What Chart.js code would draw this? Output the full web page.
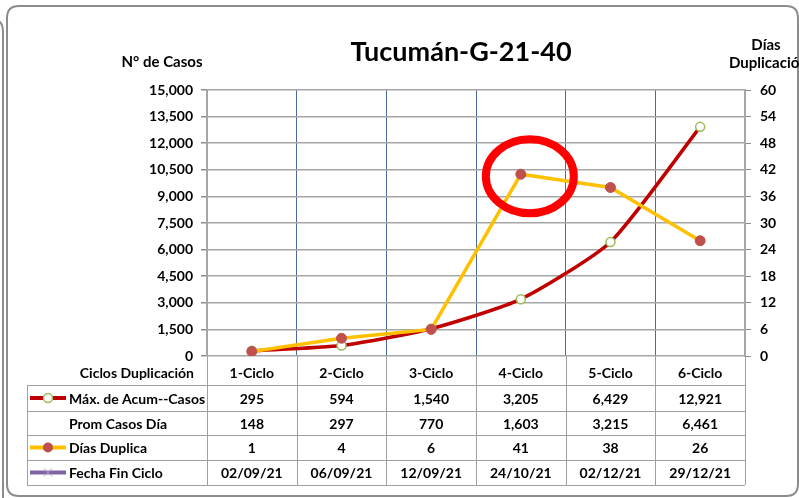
<!DOCTYPE html>
<html>
<head>
<meta charset="utf-8">
<script src="https://cdn.jsdelivr.net/npm/chart.js@4"></script>
<style>
  html, body { margin: 0; padding: 0; background: #fff; }
  #wrap { width: 799px; height: 498px; }
</style>
</head>
<body>
<div id="wrap"><canvas id="chart" width="799" height="498"></canvas></div>
<script>
const ciclos = ["1-Ciclo", "2-Ciclo", "3-Ciclo", "4-Ciclo", "5-Ciclo", "6-Ciclo"];
const maxAcumCasos = [295, 594, 1540, 3205, 6429, 12921];
const promCasosDia = [148, 297, 770, 1603, 3215, 6461];
const diasDuplica = [1, 4, 6, 41, 38, 26];
const fechaFinCiclo = ["02/09/21", "06/09/21", "12/09/21", "24/10/21", "02/12/21", "29/12/21"];
const casosTicks = [0, 1500, 3000, 4500, 6000, 7500, 9000, 10500, 12000, 13500, 15000];
const diasTicks = [0, 6, 12, 18, 24, 30, 36, 42, 48, 54, 60];

const FONT = "Lato, 'Open Sans', sans-serif";
const fmt = n => n.toLocaleString("en-US");

function roundRect(ctx, x, y, w, h, r) {
  ctx.beginPath();
  ctx.moveTo(x + r, y);
  ctx.lineTo(x + w - r, y);
  ctx.quadraticCurveTo(x + w, y, x + w, y + r);
  ctx.lineTo(x + w, y + h - r);
  ctx.quadraticCurveTo(x + w, y + h, x + w - r, y + h);
  ctx.lineTo(x + r, y + h);
  ctx.quadraticCurveTo(x, y + h, x, y + h - r);
  ctx.lineTo(x, y + r);
  ctx.quadraticCurveTo(x, y, x + r, y);
  ctx.closePath();
}

// frame, titles, data table and the red circle
const extras = {
  id: "extras",
  afterDraw(chart) {
    const ctx = chart.ctx;
    const a = chart.chartArea;
    const xs = chart.scales.x;
    const y1 = chart.scales.y1;
    const colW = (a.right - a.left) / ciclos.length;
    ctx.save();

    // frames
    ctx.strokeStyle = "#8c8c8c";
    ctx.lineWidth = 2;
    roundRect(ctx, 7, 6, 791, 490, 12);
    ctx.stroke();
    ctx.beginPath();
    ctx.moveTo(-6, 20);
    ctx.quadraticCurveTo(3, 20, 3, 32);
    ctx.lineTo(3, 498);
    ctx.stroke();

    // titles
    ctx.fillStyle = "#000";
    ctx.textBaseline = "middle";
    ctx.textAlign = "center";
    ctx.font = "bold 27px " + FONT;
    ctx.fillText("Tucumán-G-21-40", 461, 52);
    ctx.font = "bold 15px " + FONT;
    ctx.fillText("N° de Casos", 162, 62);
    ctx.fillText("Días", 766, 45);
    ctx.textAlign = "left";
    ctx.fillText("Duplicación", 729, 63);

    // red circle around 4-Ciclo
    const cx = xs.getPixelForValue(3) + 9;
    const cy = y1.getPixelForValue(diasDuplica[3]) + 2;
    ctx.strokeStyle = "#ff0000";
    ctx.lineWidth = 8;
    ctx.beginPath();
    ctx.ellipse(cx, cy, 44, 37, 0, 0, Math.PI * 2);
    ctx.stroke();

    // table
    const tLeft = 27;
    const rows = [385, 411, 435, 460, 485];
    ctx.strokeStyle = "#a0a0a0";
    ctx.lineWidth = 1;
    ctx.beginPath();
    rows.forEach(r => { ctx.moveTo(tLeft, r + 0.5); ctx.lineTo(a.right, r + 0.5); });
    ctx.moveTo(tLeft + 0.5, rows[0]); ctx.lineTo(tLeft + 0.5, rows[4]);
    for (let i = 0; i <= ciclos.length; i++) {
      const x = Math.round(a.left + i * colW) + 0.5;
      ctx.moveTo(x, a.bottom); ctx.lineTo(x, rows[4]);
    }
    ctx.stroke();

    ctx.fillStyle = "#000";
    ctx.font = "bold 14px " + FONT;
    ctx.textAlign = "right";
    ctx.fillText("Ciclos Duplicación", 194, 373);
    ctx.textAlign = "left";
    const labels = ["Máx. de Acum--Casos", "Prom Casos Día", "Días Duplica", "Fecha Fin Ciclo"];
    const rowData = [maxAcumCasos.map(fmt), promCasosDia.map(fmt), diasDuplica.map(String), fechaFinCiclo];
    for (let r = 0; r < 4; r++) {
      const yc = (rows[r] + rows[r + 1]) / 2 + 1;
      ctx.fillStyle = "#000";
      ctx.textAlign = "left";
      ctx.fillText(labels[r], 69, yc);
      ctx.textAlign = "center";
      rowData[r].forEach((v, i) => ctx.fillText(v, a.left + (i + 0.5) * colW, yc));
    }
    ciclos.forEach((c, i) => ctx.fillText(c, a.left + (i + 0.5) * colW, 373));

    // legend keys
    const key = (yc, color) => {
      ctx.strokeStyle = color; ctx.lineWidth = 4;
      ctx.beginPath(); ctx.moveTo(30, yc); ctx.lineTo(66, yc); ctx.stroke();
    };
    let yc = (rows[0] + rows[1]) / 2;
    key(yc, "#c00000");
    ctx.fillStyle = "#fff"; ctx.strokeStyle = "#9bbb59"; ctx.lineWidth = 1.5;
    ctx.beginPath(); ctx.arc(48, yc, 4.5, 0, Math.PI * 2); ctx.fill(); ctx.stroke();
    yc = (rows[2] + rows[3]) / 2;
    key(yc, "#ffc000");
    ctx.fillStyle = "#c0504d";
    ctx.beginPath(); ctx.arc(48, yc, 5, 0, Math.PI * 2); ctx.fill();
    yc = (rows[3] + rows[4]) / 2;
    key(yc, "#8064a2");
    ctx.strokeStyle = "#b3a2c7"; ctx.lineWidth = 1;
    ctx.beginPath();
    ctx.moveTo(44, yc - 4); ctx.lineTo(52, yc + 4);
    ctx.moveTo(52, yc - 4); ctx.lineTo(44, yc + 4);
    ctx.stroke();

    ctx.restore();
  }
};

new Chart(document.getElementById("chart"), {
  type: "line",
  data: {
    labels: ciclos,
    datasets: [
      {
        label: "Días Duplica",
        data: diasDuplica,
        yAxisID: "y1",
        borderColor: "#ffc000",
        borderWidth: 3.5,
        tension: 0,
        pointRadius: 5,
        pointBackgroundColor: "#c0504d",
        pointBorderColor: "#c0504d",
        pointBorderWidth: 1,
        order: 0
      },
      {
        label: "Máx. de Acum--Casos",
        data: maxAcumCasos,
        yAxisID: "y",
        borderColor: "#c00000",
        borderWidth: 3.5,
        tension: 0.2,
        pointRadius: 4.5,
        pointBackgroundColor: "#fff",
        pointBorderColor: "#9bbb59",
        pointBorderWidth: 1.5,
        order: 1
      }
    ]
  },
  options: {
    responsive: false,
    animation: false,
    layout: { padding: { left: 0, right: 0, top: 90, bottom: 142 } },
    plugins: { legend: { display: false }, tooltip: { enabled: false } },
    scales: {
      x: {
        offset: true,
        grid: { offset: true, color: "#4a6a9e", lineWidth: 1, drawTicks: false },
        border: { display: false },
        ticks: { display: false },
        afterFit: s => { s.height = 0; }
      },
      y: {
        position: "left",
        min: 0, max: 15000,
        afterBuildTicks: s => { s.ticks = casosTicks.map(v => ({ value: v })); },
        afterFit: s => { s.width = 207; },
        grid: { color: "#a6a6a6", lineWidth: 1.5, tickLength: 6, tickColor: "#8c8c8c" },
        border: { color: "#a6a6a6", width: 2 },
        ticks: {
          padding: 8,
          color: "#000",
          font: { family: FONT, size: 14, weight: "bold" },
          callback: v => fmt(v)
        }
      },
      y1: {
        position: "right",
        min: 0, max: 60,
        afterBuildTicks: s => { s.ticks = diasTicks.map(v => ({ value: v })); },
        afterFit: s => { s.width = 54; },
        grid: { drawOnChartArea: false, tickLength: 6, tickColor: "#8c8c8c" },
        border: { color: "#a6a6a6", width: 2 },
        ticks: {
          padding: 9,
          color: "#000",
          font: { family: FONT, size: 14, weight: "bold" }
        }
      }
    }
  },
  plugins: [extras]
});
</script>
</body>
</html>
